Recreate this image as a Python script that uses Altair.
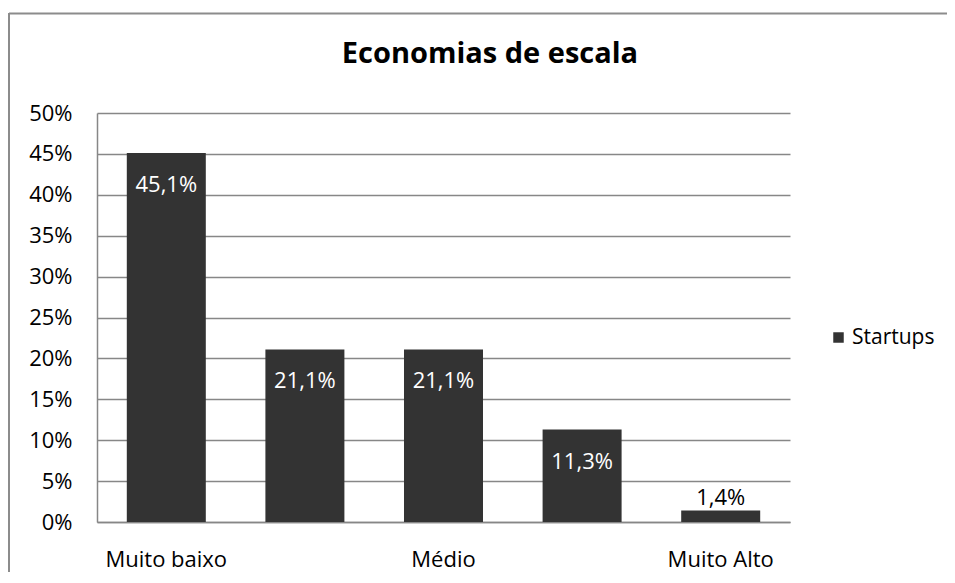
import altair as alt
import pandas as pd

title_text = ["Economias de escala"]
categories = ["Muito baixo", "Baixo", "Médio", "Alto", "Muito Alto"]
values = [0.451, 0.211, 0.211, 0.113, 0.014]
series = ["Startups"] * 5
shown_labels = ["Muito baixo", "Médio", "Muito Alto"]
y_ticks = [0, 0.05, 0.10, 0.15, 0.20, 0.25, 0.30, 0.35, 0.40, 0.45, 0.50]

df = pd.DataFrame({"cat": categories, "v": values, "s": series})
tdf = pd.DataFrame({"t": title_text})

FONT = "Open Sans"
label_expr = "indexof(" + str(shown_labels).replace('"', "'") + ", datum.value) >= 0 ? datum.value : ''"

x = alt.X("cat:N", sort=categories, title=None,
          scale=alt.Scale(paddingInner=0.43, paddingOuter=0.215),
          axis=alt.Axis(labelExpr=label_expr, labelAngle=0, ticks=False, domain=True,
                        grid=False,
                        domainColor="#878787", domainWidth=1.5, labelPadding=27,
                        labelFontSize=22, labelFont=FONT, labelColor="#000000"))
y = alt.Y("v:Q", title=None, scale=alt.Scale(domain=[0, 0.5], nice=False),
          axis=alt.Axis(values=y_ticks, format=".0%", ticks=False, domain=True,
                        domainColor="#878787", domainWidth=1.5, grid=True,
                        gridColor="#878787", gridWidth=1.5, labelPadding=25,
                        labelFontSize=22, labelFont=FONT, labelColor="#000000"))

base = alt.Chart(df).transform_calculate(
    lbl="replace(format(datum.v, '.1%'), '.', ',')"
)

bars = base.mark_bar(stroke=None).encode(
    x=x, y=y,
    color=alt.Color("s:N", title=None,
                    scale=alt.Scale(range=["#333333"]),
                    legend=alt.Legend(orient="none", legendX=731, legendY=214,
                                      symbolType="square", symbolSize=110,
                                      symbolStrokeWidth=0, labelFontSize=21,
                                      labelFont=FONT, labelColor="#000000",
                                      labelOffset=3)),
)

inside = base.transform_filter("datum.v >= 0.05").mark_text(
    color="white", fontSize=22, font=FONT, baseline="middle", dy=32
).encode(x=alt.X("cat:N", sort=categories), y="v:Q", text="lbl:N")

outside = base.transform_filter("datum.v < 0.05").mark_text(
    color="#000000", fontSize=22, font=FONT, baseline="middle", dy=-13
).encode(x=alt.X("cat:N", sort=categories), y="v:Q", text="lbl:N")

title = alt.Chart(tdf).mark_text(
    fontSize=29, font=FONT, fontWeight="bold", color="#000000",
    align="center", baseline="alphabetic"
).encode(x=alt.value(393), y=alt.value(-50), text="t:N")

frame_top = alt.Chart(tdf).mark_rule(color="#8c8c8c", strokeWidth=2).encode(
    x=alt.value(-88), x2=alt.value(860), y=alt.value(-99.5))
frame_left = alt.Chart(tdf).mark_rule(color="#8c8c8c", strokeWidth=2).encode(
    x=alt.value(-88), y=alt.value(-100), y2=alt.value(470))

chart = alt.layer(bars, inside, outside, title, frame_top, frame_left).properties(
    width=693, height=409,
    padding={"left": 89, "top": 105, "right": 157, "bottom": 50},
    autosize=alt.AutoSizeParams(type="none"),
).configure(background="white").configure_view(strokeOpacity=0, strokeWidth=0)

chart.save("out.html", embed_options={"renderer": "svg", "actions": False})
